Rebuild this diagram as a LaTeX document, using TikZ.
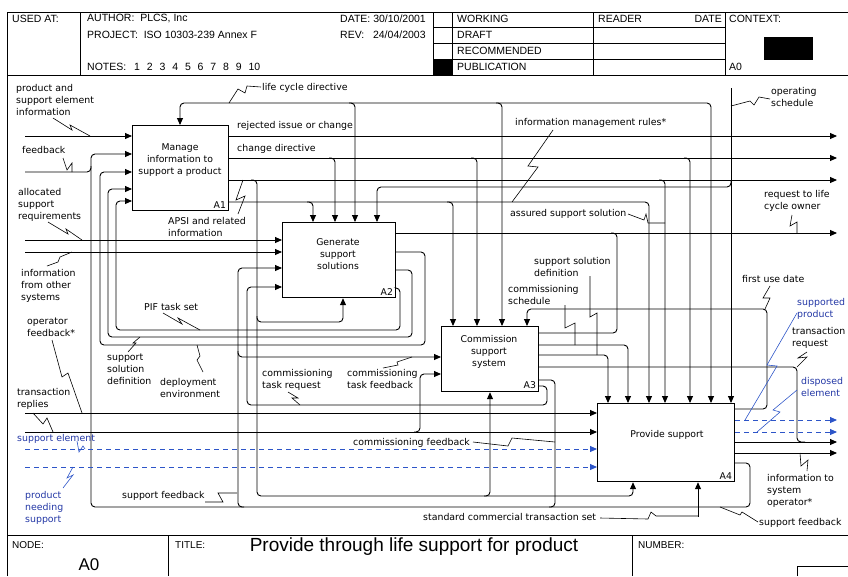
\documentclass[tikz,border=0pt]{standalone}
\usepackage{fontspec}
\setmainfont{DejaVu Sans}
\newfontfamily\hdrfont{Liberation Sans}
\usetikzlibrary{arrows.meta}
\definecolor{lblue}{RGB}{35,55,165}
\definecolor{dblue}{RGB}{45,85,200}
\newcommand\brd[3]{\draw[arr] ({#1-6},#2) -- (#1,#2) -- (#1,#2 |- #3.north);}
\begin{document}
\begin{tikzpicture}[x=1pt,y=-1pt,
 ln/.style={line width=0.9pt,rounded corners=4pt},
 arr/.style={ln,-{Triangle[length=7pt,width=6pt]}},
 barr/.style={line width=0.9pt,draw=dblue,dash pattern=on 5pt off 4pt,-{Triangle[length=7pt,width=6pt,fill=dblue]}},
 lead/.style={line width=0.6pt},
 blead/.style={line width=0.6pt,draw=dblue},
 box/.style={draw,line width=1.2pt,anchor=north west,inner sep=0pt},
 boxtxt/.style={align=center,font=\fontsize{9.3}{12}\selectfont,inner sep=0pt},
 boxid/.style={anchor=south east,font=\fontsize{9.3}{10}\selectfont,inner sep=0pt},
 lbl/.style={align=left,anchor=north west,font=\fontsize{9.4}{12}\selectfont,inner sep=0pt},
 blbl/.style={lbl,text=lblue},
 hdr/.style={anchor=west,font=\hdrfont\fontsize{10.5}{12}\selectfont,inner sep=0pt},
 ftr/.style={anchor=west,font=\hdrfont\fontsize{10}{12}\selectfont,inner sep=0pt},
 frame/.style={line width=1pt}]
\useasboundingbox (0,0) rectangle (848,576);
% ---------- frame ----------
\draw[frame] (7,576) -- (7,12) -- (848,12);
\draw[frame] (7,75) -- (848,75);
\draw[frame] (7,535) -- (848,535);
\foreach \xx in {80,433,452,593,725} \draw[frame] (\xx,12) -- (\xx,75);
\foreach \yy in {27,43,59} \draw[frame] (433,\yy) -- (725,\yy);
\fill (433,59) rectangle (452,75);
\fill (764,37) rectangle (813,60);
\draw[frame] (168,535) -- (168,576);
\draw[frame] (632,535) -- (632,576);
\draw[frame] (797,576) -- (797,566) -- (848,566);
% ---------- header ----------
\node[hdr] (usedat) at (12,19) {USED AT:};
\node[hdr] (author) at (87,19) {AUTHOR:\ \ PLCS, Inc};
\node[hdr] (proj) at (87,35) {PROJECT:\ \ ISO 10303-239 Annex F};
\node[hdr] (notes) at (87,67) {NOTES:};
\foreach \i [count=\k] in {1,...,10} \node[hdr] (nt\k) at ({134+12.7*(\k-1)},67) {\i};
\node[hdr] (date) at (340,19) {DATE: 30/10/2001};
\node[hdr] (rev) at (340,35) {REV:\ \ \ 24/04/2003};
\node[hdr] (working) at (457,19) {WORKING};
\node[hdr] (draft) at (457,35) {DRAFT};
\node[hdr] (recom) at (457,51) {RECOMMENDED};
\node[hdr] (pub) at (457,67) {PUBLICATION};
\node[hdr] (reader) at (598,19) {READER};
\node[hdr,anchor=east] (rdate) at (722,19) {DATE};
\node[hdr] (context) at (729,19) {CONTEXT:};
\node[hdr] (ctxa0) at (729,67) {A0};
% ---------- footer ----------
\node[ftr] (nodelbl) at (12,545) {NODE:};
\node[ftr] (titlelbl) at (175,545) {TITLE:};
\node[ftr] (numlbl) at (638,545) {NUMBER:};
\node[font=\hdrfont\fontsize{17}{20}\selectfont,inner sep=0pt] (a0) at (89,565) {A0};
\node[font=\hdrfont\fontsize{19}{22}\selectfont,inner sep=0pt] (title) at (414,547) {Provide through life support for product};
% ---------- boxes ----------
\node[box,minimum width=96pt,minimum height=85pt] (A1) at (132,125) {};
\node[box,minimum width=113pt,minimum height=75pt] (A2) at (282,222) {};
\node[box,minimum width=97pt,minimum height=65pt] (A3) at (441,326) {};
\node[box,minimum width=137pt,minimum height=78pt] (A4) at (597,403) {};
\node[boxtxt] (A1t) at (180,160) {Manage\\information to\\support a product};
\node[boxtxt] (A2t) at (338,254) {Generate\\support\\solutions};
\node[boxtxt] (A3t) at (489,352) {Commission\\support\\system};
\node[boxtxt] (A4t) at (667,435) {Provide support};
\node[boxid] (A1id) at ([xshift=-3pt,yshift=3pt]A1.south east) {A1};
\node[boxid] (A2id) at ([xshift=-3pt,yshift=3pt]A2.south east) {A2};
\node[boxid] (A3id) at ([xshift=-3pt,yshift=3pt]A3.south east) {A3};
\node[boxid] (A4id) at ([xshift=-3pt,yshift=3pt]A4.south east) {A4};
% ---------- controls from top ----------
% life cycle directive
\draw[arr] (229,103) -- (180,103) -- (180,0 |- A1.north);
\draw[arr] (229,103) -- (711,103) -- (711,0 |- A4.north);
\brd{355}{103}{A2}
\brd{502}{103}{A3}
% rejected issue or change
\draw[arr] (A1.east |- 0,136) -- (837,136);
% change directive
\draw[arr] (A1.east |- 0,158) -- (837,158);
\brd{335}{158}{A2}
\brd{477}{158}{A3}
\brd{690}{158}{A4}
% APSI and related information
\draw[arr] (A1.east |- 0,180) -- (837,180);
\brd{665}{180}{A4}
\draw[arr] (251,180) -- (257,180) -- (257,496) -- (633,496) -- (633,0 |- A4.south);
\draw[arr] (484,496) -- (490,496) -- (490,0 |- A3.south);
\draw[arr] (257,316) -- (257,322) -- (343,322) -- (343,0 |- A2.south);
% operating schedule
\draw[arr] (731,88) -- (731,0 |- A4.north);
\draw[arr] (731,181) -- (731,187) -- (377,187) -- (377,0 |- A2.north);
% information management rules
\draw[arr] (A1.east |- 0,202) -- (649,202) -- (649,0 |- A4.north);
\brd{313}{202}{A2}
\brd{453}{202}{A3}
% request to life cycle owner
\draw[arr] (A2.east |- 0,233) -- (837,233);
\draw[ln] (611,233) -- (617,233) -- (617,333) -- (A3.east |- 0,333);
% ---------- A2 feedback loops to A1 ----------
\draw[arr] (A2.east |- 0,252) -- (425,252) -- (425,345) -- (100,345) -- (100,172) -- (A1.west |- 0,172);
\draw[arr] (A2.east |- 0,270) -- (412,270) -- (412,337) -- (108,337) -- (108,189) -- (A1.west |- 0,189);
\draw[arr] (A2.east |- 0,288) -- (400,288) -- (400,330) -- (116,330) -- (116,201) -- (A1.west |- 0,201);
% ---------- left inputs ----------
\draw[arr] (25,136) -- (A1.west |- 0,136);
\draw[ln] (25,172) -- (91,172) -- (91,166);
\draw[arr] (A4.east |- 0,463) -- (750,463) -- (750,507) -- (91,507) -- (91,154) -- (A1.west |- 0,154);
\draw[ln] (A3.east |- 0,380) -- (555,380) -- (555,507) -- (549,507);
\draw[arr] (244,507) -- (238,507) -- (238,268) -- (A2.west |- 0,268);
\draw[arr] (238,351) -- (238,357) -- (A3.west |- 0,357);
\draw[arr] (A3.east |- 0,386) -- (547,386) -- (547,405) -- (247,405) -- (247,287) -- (A2.west |- 0,287);
\draw[arr] (25,240) -- (A2.west |- 0,240);
\draw[arr] (25,252) -- (A2.west |- 0,252);
% ---------- A3 outputs ----------
\draw[arr] (A3.east |- 0,345) -- (628,345) -- (628,0 |- A4.north);
\draw[arr] (A3.east |- 0,355) -- (608,355) -- (608,0 |- A4.north);
\draw[ln] (A3.east |- 0,367) -- (797,367) -- (797,442) -- (805,442);
% ---------- A4 ----------
\draw[arr] (A4.east |- 0,409) -- (767,409) -- (767,309) -- (527,309) -- (527,0 |- A3.north);
\draw[barr] (A4.east |- 0,420) -- (837,420);
\draw[barr] (A4.east |- 0,432) -- (837,432);
\draw[arr] (A4.east |- 0,442) -- (837,442);
\draw[arr] (A4.east |- 0,453) -- (837,453);
\draw[arr] (25,413) -- (A4.west |- 0,413);
\draw[arr] (25,432) -- (A4.west |- 0,432);
\draw[arr] (414,432) -- (420,432) -- (420,374) -- (A3.west |- 0,374);
\draw[barr] (25,449) -- (A4.west |- 0,449);
\draw[barr] (25,467) -- (A4.west |- 0,467);
\draw[arr] (698,517) -- (698,0 |- A4.south);
% ---------- labels ----------
\node[lbl] (l1) at (16,84) {product and\\support element\\information};
\node[lbl] (l2) at (22,146) {feedback};
\node[lbl] (l3) at (18,188) {allocated\\support\\requirements};
\node[lbl] (l4) at (21,269) {information\\from other\\systems};
\node[lbl] (l5) at (27,318) {operator\\feedback*};
\node[lbl] (l6) at (17,388) {transaction\\replies};
\node[blbl] (l7) at (17,434) {support element};
\node[blbl] (l8) at (25,491) {product\\needing\\support};
\node[lbl] (l9) at (262,83) {life cycle directive};
\node[lbl] (l10) at (237,121) {rejected issue or change};
\node[lbl] (l11) at (237,144) {change directive};
\node[lbl] (l12) at (168,217) {APSI and related\\information};
\node[lbl] (l13) at (515,118) {information management rules*};
\node[lbl] (l14) at (771,87) {operating\\schedule};
\node[lbl] (l15) at (510,209) {assured support solution};
\node[lbl] (l16) at (764,190) {request to life\\cycle owner};
\node[lbl] (l17) at (144,303) {PIF task set};
\node[lbl] (l18) at (107,354) {support\\solution\\definition};
\node[lbl] (l19) at (160,378) {deployment\\environment};
\node[lbl] (l20) at (262,369) {commissioning\\task request};
\node[lbl] (l21) at (347,369) {commissioning\\task feedback};
\node[lbl] (l22) at (534,257) {support solution\\definition};
\node[lbl] (l23) at (508,285) {commissioning\\schedule};
\node[lbl] (l24) at (742,275) {first use date};
\node[blbl] (l25) at (797,298) {supported\\product};
\node[lbl] (l26) at (792,327) {transaction\\request};
\node[blbl] (l27) at (801,377) {disposed\\element};
\node[lbl] (l28) at (767,474) {information to\\system\\operator*};
\node[lbl] (l29) at (759,518) {support feedback};
\node[lbl] (l30) at (122,491) {support feedback};
\node[lbl] (l31) at (353,438) {commissioning feedback};
\node[lbl] (l32) at (423,513) {standard commercial transaction set};
% ---------- leaders ----------
\draw[lead] (53,118) -- (72,130) -- (70,125) -- (90,136);
\draw[lead] (63,158) -- (67,170) -- (72,163) -- (72,172);
\draw[lead] (48,222) -- (68,234) -- (66,229) -- (82,240);
\draw[lead] (47,266) -- (58,262) -- (60,257) -- (72,252);
\draw[lead] (52,340) -- (62,377) -- (68,373) -- (82,413);
\draw[lead] (33,413) -- (43,424) -- (47,418) -- (53,432);
\draw[blead] (77,441) -- (79,452) -- (83,446) -- (85,449);
\draw[blead] (63,488) -- (73,475) -- (67,478) -- (73,467);
\draw[lead] (261,87) -- (247,86) -- (245,93) -- (238,89) -- (229,103);
\draw[lead] (238,214) -- (245,196) -- (236,200) -- (243,180);
\draw[lead] (553,130) -- (528,166) -- (538,167) -- (512,202);
\draw[lead] (770,99) -- (759,97) -- (754,105) -- (750,101) -- (731,106);
\draw[lead] (628,214) -- (644,220) -- (646,214) -- (648,223) -- (665,223);
\draw[lead] (792,215) -- (790,226) -- (797,222) -- (797,233);
\draw[lead] (163,313) -- (182,324) -- (178,318) -- (200,330);
\draw[lead] (128,352) -- (136,343) -- (133,343) -- (140,337);
\draw[lead] (203,372) -- (197,360) -- (200,356) -- (197,345);
\draw[lead] (288,392) -- (298,398) -- (292,398) -- (300,405);
\draw[lead] (383,368) -- (398,365) -- (397,362) -- (412,357);
\draw[lead] (590,276) -- (590,317) -- (597,313) -- (597,355);
\draw[lead] (565,305) -- (565,328) -- (575,323) -- (575,345);
\draw[lead] (770,286) -- (763,298) -- (770,298) -- (765,309);
\draw[blead] (797,313) -- (767,365) -- (777,366) -- (745,420);
\draw[lead] (807,352) -- (798,358) -- (807,357) -- (797,367);
\draw[blead] (797,390) -- (773,410) -- (780,412) -- (757,432);
\draw[lead] (807,471) -- (808,460) -- (801,466) -- (800,453);
\draw[lead] (758,522) -- (742,512) -- (740,515) -- (720,507);
\draw[lead] (205,502) -- (223,502) -- (218,493) -- (237,493);
\draw[lead] (473,442) -- (508,446) -- (512,438) -- (555,442);
\draw[lead] (600,518) -- (648,519) -- (651,512) -- (656,516) -- (698,516);
\end{tikzpicture}
\end{document}
